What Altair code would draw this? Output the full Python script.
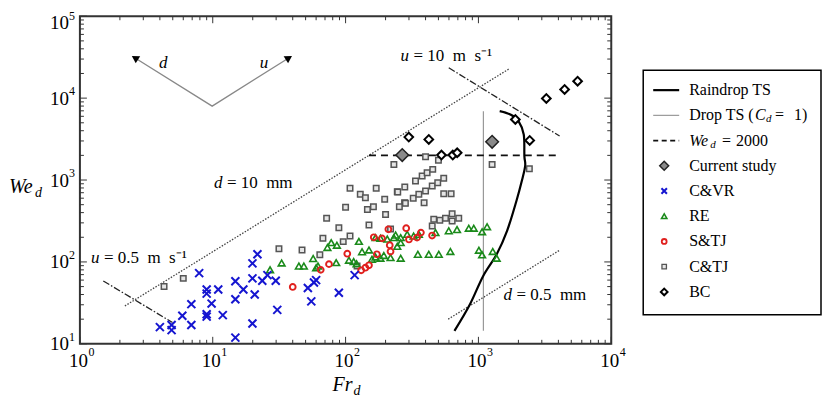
import altair as alt
import pandas as pd

FONT = "Liberation Serif"

# ---------------- data ----------------
# C&VR (blue crosses)
cvr_fr = [4.0, 4.9, 4.9, 5.9, 6.9, 6.9, 7.9, 9.0, 9.0, 9.0, 9.0, 9.8, 11, 11.9, 14.8, 14.8, 14.8,
          17, 19.9, 21.7, 19.9, 20.7, 19.9, 23.6, 25.8, 29.8, 30.6, 52, 55.2, 57.8, 60, 89, 117]
cvr_we = [16, 17, 14.7, 22, 30.5, 17, 73, 46, 41, 23, 21.5, 31, 46, 22.4, 58, 35, 11.9,
          46, 96, 124, 63, 40, 17.7, 59, 69, 59, 26, 48, 33, 56, 60, 42, 69]
# RE (green triangles)
re_fr = [27, 33, 44.5, 48.5, 57, 60, 62, 73, 78, 86, 85, 106, 115, 121, 126, 133, 150, 158, 168, 183,
         194, 168, 183, 206, 231, 238, 245, 260, 260, 291, 325, 356, 218, 260, 350, 423, 503, 615,
         475, 598, 690, 846, 922, 1066, 1162, 1008, 1066, 1282, 1373]
re_we = [80, 97, 89, 89, 110, 85, 89, 150, 172, 160, 98, 105, 101, 95, 178, 133, 140, 108, 115, 111,
         120, 198, 194, 190, 198, 213, 155, 172, 198, 217, 207, 217, 113, 111, 124, 124, 124, 134,
         228, 240, 248, 258, 258, 234, 269, 139, 122, 134, 111]
# S&TJ (red circles)
st_fr = [40, 65, 75, 103, 131, 150, 172, 163, 188, 210, 215, 218, 286, 300, 345, 369, 448, 141]
st_we = [49.5, 80, 94, 126, 79, 91, 124, 200, 194, 250, 160, 134, 258, 188, 198, 228, 210, 85]
# C&TJ (grey squares)
ct_fr = [4.3, 6.0, 31.5, 47, 64, 122, 67.5, 72, 89, 96, 108, 100, 108, 129, 141, 170, 197, 245, 146,
         162, 200, 150, 231, 400, 500, 1268, 2418, 247, 279, 336, 377, 411, 453, 278, 323, 356, 400,
         449, 494, 548, 390, 548, 623, 461, 512, 565, 634, 634, 711, 449, 218, 254, 282]
ct_we = [50, 63, 145, 140, 122, 89, 194, 341, 262, 177, 207, 465, 793, 670, 608, 793, 582, 720, 437,
         472, 380, 282, 1550, 1920, 1740, 1550, 1370, 714, 822, 973, 1119, 1228, 1349, 528, 598, 670,
         735, 845, 927, 1050, 528, 681, 681, 332, 323, 341, 388, 316, 341, 275, 252, 472, 520]
# BC (open diamonds)
bc_fr = [299, 423, 527, 641, 692, 1897, 2432, 3245, 4455, 5581]
bc_we = [3343, 3133, 2018, 2018, 2153, 5495, 3048, 9910, 12760, 16100]
# Current study (grey diamonds)
cs_fr = [267, 1268]
cs_we = [2018, 2930]

# Curves and reference lines
rain_fr = [660, 860, 1084, 1373, 1643, 1932, 2130, 2250, 2218, 2194, 2003, 1742, 1446]
rain_we = [14.4, 30, 67, 124, 239, 555, 1000, 1500, 1960, 3600, 5250, 6300, 6930]
dropts_fr = [1090, 1090]
dropts_we = [14.4, 6930]
we2000_fr = [150, 4016]
we2000_we = [2000, 2000]
d10_fr = [2.18, 1690]
d10_we = [29, 22600]
d05_fr = [592, 4085]
d05_we = [20, 139]
u05_fr = [1.5, 4.98]
u05_we = [58.6, 18.2]
u10_fr = [598, 4085]
u10_we = [23450, 3444]
arrow_fr = [2.64, 9.9, 36.8]
arrow_we = [30480, 7980, 30480]

# Annotations
ann_var = ["u", "u", "d", "d"]
ann_rest = ["=\u00a00.5\u00a0\u00a0m\u00a0\u00a0s\u207b\u00b9",
            "=\u00a010\u00a0\u00a0m\u00a0\u00a0s\u207b\u00b9",
            "=\u00a010\u00a0\u00a0mm",
            "=\u00a00.5\u00a0\u00a0mm"]
ann_fr = [1.21, 259, 10.2, 1542]
ann_we = [112, 32500, 918, 39.6]
arrow_lab = ["d", "u"]
arrow_lab_fr = [4.23, 24.3]
arrow_lab_we = [26900, 26900]

# Axis ticks / labels
x_dec = [1, 10, 100, 1000, 10000]
x_exp = ["0", "1", "2", "3", "4"]
y_dec = [10, 100, 1000, 10000, 100000]
y_exp = ["1", "2", "3", "4", "5"]
dec_base = ["10"] * 5
x_minor = [m * d for d in x_dec[:-1] for m in range(2, 10)]
y_minor = [m * d for d in y_dec[:-1] for m in range(2, 10)]
title_y = ["We", "d"]
title_x = ["Fr", "d"]

# Legend
leg_rows = ["Raindrop TS", "Drop TS", "We2000", "Current study", "C&VR", "RE", "S&TJ", "C&TJ", "BC"]
leg_plain = ["Raindrop TS", "Current study", "C&VR", "RE", "S&TJ", "C&TJ", "BC"]
leg_drop_parts = ["Drop TS (", "C", "d", "=", "1)"]
leg_we_parts = ["We", "d", "=", "2000"]

# ---------------- chart ----------------
W, H = 532, 328
xs = alt.Scale(type="log", domain=[1, 10000], nice=False)
ys = alt.Scale(type="log", domain=[10, 100000], nice=False)
enc_x = alt.X("fr:Q", scale=xs, axis=None)
enc_y = alt.Y("we:Q", scale=ys, axis=None)
X_PATH = "M-1,-1L1,1M-1,1L1,-1"


def frame(fr, we, **extra):
    d = pd.DataFrame({"fr": fr, "we": we})
    d["i"] = range(len(d))
    for k, v in extra.items():
        d[k] = v
    return d


def line(fr, we, **kw):
    return alt.Chart(frame(fr, we)).mark_line(**kw).encode(x=enc_x, y=enc_y, order="i:Q")


def points(fr, we, **kw):
    return alt.Chart(frame(fr, we)).mark_point(opacity=1, **kw).encode(x=enc_x, y=enc_y)


layers = []
layers.append(line(d10_fr, d10_we, color="#444", strokeWidth=1.3, strokeDash=[1.5, 1.5]))
layers.append(line(d05_fr, d05_we, color="#444", strokeWidth=1.3, strokeDash=[1.5, 1.5]))
layers.append(line(u05_fr, u05_we, color="#222", strokeWidth=1.3, strokeDash=[7, 2, 1.5, 2]))
layers.append(line(u10_fr, u10_we, color="#222", strokeWidth=1.3, strokeDash=[7, 2, 1.5, 2]))
layers.append(line(arrow_fr, arrow_we, color="#888", strokeWidth=1.3))
layers.append(points(arrow_fr[:1], arrow_we[:1], shape="triangle", angle=302, size=70,
                     filled=True, color="black"))
layers.append(points(arrow_fr[2:], arrow_we[2:], shape="triangle", angle=58, size=70,
                     filled=True, color="black"))
layers.append(line(dropts_fr, dropts_we, color="#999", strokeWidth=1.2))
layers.append(line(we2000_fr, we2000_we, color="#111", strokeWidth=1.8, strokeDash=[7, 5]))
layers.append(line(rain_fr, rain_we, color="black", strokeWidth=2.2, interpolate="cardinal"))

layers.append(points(ct_fr, ct_we, shape="square", size=30, filled=True, fill="#e6e6e6",
                     stroke="#555", strokeWidth=1.5))
layers.append(points(re_fr, re_we, shape="triangle-up", size=45, filled=False, color="#1a8a1a",
                     strokeWidth=1.6))
layers.append(points(st_fr, st_we, shape="circle", size=34, filled=False, color="#e0201e",
                     strokeWidth=1.9))
layers.append(points(cvr_fr, cvr_we, shape=X_PATH, size=64, filled=False, color="#1515d0",
                     strokeWidth=2))
layers.append(points(bc_fr, bc_we, shape="diamond", size=75, filled=True, fill="white",
                     stroke="black", strokeWidth=2))
layers.append(points(cs_fr, cs_we, shape="diamond", size=160, filled=True, fill="#8a8a8a",
                     stroke="#222", strokeWidth=1.5))

# annotations
ann_df = pd.DataFrame({"fr": ann_fr, "we": ann_we, "v": ann_var, "r": ann_rest})
layers.append(alt.Chart(ann_df).mark_text(font=FONT, fontSize=17, fontStyle="italic", align="left",
                                          baseline="middle").encode(x=enc_x, y=enc_y, text="v:N"))
layers.append(alt.Chart(ann_df).mark_text(font=FONT, fontSize=17, align="left", baseline="middle",
                                          dx=13).encode(x=enc_x, y=enc_y, text="r:N"))
alab_df = pd.DataFrame({"fr": arrow_lab_fr, "we": arrow_lab_we, "t": arrow_lab})
layers.append(alt.Chart(alab_df).mark_text(font=FONT, fontSize=17, fontStyle="italic",
                                           baseline="middle").encode(x=enc_x, y=enc_y, text="t:N"))

# inward ticks on all four sides
TICK = dict(color="#333", strokeWidth=1)
for vals, ln in ((x_dec, 7), (x_minor, 4)):
    b = alt.Chart(pd.DataFrame({"fr": vals}))
    layers.append(b.mark_rule(**TICK).encode(x=enc_x, y=alt.value(H), y2=alt.value(H - ln)))
    layers.append(b.mark_rule(**TICK).encode(x=enc_x, y=alt.value(0), y2=alt.value(ln)))
for vals, ln in ((y_dec, 7), (y_minor, 4)):
    b = alt.Chart(pd.DataFrame({"we": vals}))
    layers.append(b.mark_rule(**TICK).encode(y=enc_y, x=alt.value(0), x2=alt.value(ln)))
    layers.append(b.mark_rule(**TICK).encode(y=enc_y, x=alt.value(W), x2=alt.value(W - ln)))

# tick labels 10^n
xl = alt.Chart(pd.DataFrame({"fr": x_dec, "b": dec_base, "e": x_exp}))
layers.append(xl.mark_text(font=FONT, fontSize=19, baseline="alphabetic", dx=-1.5)
              .encode(x=enc_x, y=alt.value(H + 23), text="b:N"))
layers.append(xl.mark_text(font=FONT, fontSize=12, baseline="alphabetic", align="left", dx=8.5)
              .encode(x=enc_x, y=alt.value(H + 12), text="e:N"))
# the top y label sits a little lower than its tick, as in the reference
for sl, shift in ((slice(0, 4), 0), (slice(4, 5), 6)):
    yl = alt.Chart(pd.DataFrame({"we": y_dec[sl], "b": dec_base[sl], "e": y_exp[sl]}))
    layers.append(yl.mark_text(font=FONT, fontSize=19, baseline="alphabetic", align="right",
                               dy=6.5 + shift).encode(y=enc_y, x=alt.value(-11), text="b:N"))
    layers.append(yl.mark_text(font=FONT, fontSize=12, baseline="alphabetic", align="left",
                               dy=-2.7 + shift).encode(y=enc_y, x=alt.value(-11), text="e:N"))

# axis titles
ty = alt.Chart(pd.DataFrame({"t": title_y[:1], "s": title_y[1:]}))
layers.append(ty.mark_text(font=FONT, fontSize=20, fontStyle="italic", align="left",
                           baseline="alphabetic").encode(x=alt.value(-71), y=alt.value(177), text="t:N"))
layers.append(ty.mark_text(font=FONT, fontSize=14, fontStyle="italic", align="left",
                           baseline="alphabetic").encode(x=alt.value(-45), y=alt.value(181), text="s:N"))
tx = alt.Chart(pd.DataFrame({"t": title_x[:1], "s": title_x[1:]}))
layers.append(tx.mark_text(font=FONT, fontSize=20, fontStyle="italic", align="left",
                           baseline="alphabetic").encode(x=alt.value(253), y=alt.value(375), text="t:N"))
layers.append(tx.mark_text(font=FONT, fontSize=14, fontStyle="italic", align="left",
                           baseline="alphabetic").encode(x=alt.value(274), y=alt.value(379), text="s:N"))

main = alt.layer(*layers).properties(
    width=W, height=H, view=alt.ViewBackground(stroke="#333", strokeWidth=2))

# ---------------- legend panel ----------------
LW = 178
ly = alt.Scale(type="point", domain=leg_rows, range=[74, 276], padding=0)
enc_ly = alt.Y("row:N", scale=ly, axis=None)


def lrow(rows, **extra):
    d = pd.DataFrame({"row": rows})
    for k, v in extra.items():
        d[k] = v
    return alt.Chart(d)


leg = []
leg.append(lrow(leg_rows[:1]).mark_rect(fill="white", stroke="black", strokeWidth=1.5).encode(
    x=alt.value(0), x2=alt.value(LW), y=alt.value(54), y2=alt.value(299)))
leg.append(lrow(["Raindrop TS"]).mark_rule(color="black", strokeWidth=2.2).encode(
    x=alt.value(10), x2=alt.value(36), y=enc_ly))
leg.append(lrow(["Drop TS"]).mark_rule(color="#999", strokeWidth=1.2).encode(
    x=alt.value(10), x2=alt.value(36), y=enc_ly))
leg.append(lrow(["We2000"]).mark_rule(color="#111", strokeWidth=1.8, strokeDash=[5, 3.5]).encode(
    x=alt.value(10), x2=alt.value(36), y=enc_ly))


def lsym(row, **kw):
    return lrow([row]).mark_point(opacity=1, **kw).encode(x=alt.value(21), y=enc_ly)


leg.append(lsym("Current study", shape="diamond", size=80, filled=True, fill="#8a8a8a",
                stroke="#222", strokeWidth=1.5))
leg.append(lsym("C&VR", shape=X_PATH, size=30, filled=False, color="#1515d0", strokeWidth=2))
leg.append(lsym("RE", shape="triangle-up", size=30, filled=False, color="#1a8a1a", strokeWidth=1.5))
leg.append(lsym("S&TJ", shape="circle", size=24, filled=False, color="#e0201e", strokeWidth=1.8))
leg.append(lsym("C&TJ", shape="square", size=20, filled=True, fill="#e6e6e6", stroke="#555",
                strokeWidth=1.3))
leg.append(lsym("BC", shape="diamond", size=45, filled=True, fill="white", stroke="black",
                strokeWidth=2))

TXT = dict(font=FONT, fontSize=16, align="left", baseline="middle")
leg.append(lrow(leg_plain, t=leg_plain).mark_text(**TXT).encode(
    x=alt.value(46), y=enc_ly, text="t:N"))
# Drop TS (C_d = 1)
dp = leg_drop_parts
leg.append(lrow(["Drop TS"], t=[dp[0]]).mark_text(**TXT).encode(x=alt.value(46), y=enc_ly, text="t:N"))
leg.append(lrow(["Drop TS"], t=[dp[1]]).mark_text(**TXT, fontStyle="italic").encode(
    x=alt.value(112), y=enc_ly, text="t:N"))
leg.append(lrow(["Drop TS"], t=[dp[2]]).mark_text(font=FONT, fontSize=11, align="left",
                                                  baseline="middle", fontStyle="italic", dy=4).encode(
    x=alt.value(123), y=enc_ly, text="t:N"))
leg.append(lrow(["Drop TS"], t=[dp[3]]).mark_text(**TXT).encode(x=alt.value(132), y=enc_ly, text="t:N"))
leg.append(lrow(["Drop TS"], t=[dp[4]]).mark_text(**TXT).encode(x=alt.value(151), y=enc_ly, text="t:N"))
# We_d = 2000
wp = leg_we_parts
leg.append(lrow(["We2000"], t=[wp[0]]).mark_text(**TXT, fontStyle="italic").encode(
    x=alt.value(46), y=enc_ly, text="t:N"))
leg.append(lrow(["We2000"], t=[wp[1]]).mark_text(font=FONT, fontSize=11, align="left",
                                                 baseline="middle", fontStyle="italic", dy=4).encode(
    x=alt.value(67), y=enc_ly, text="t:N"))
leg.append(lrow(["We2000"], t=[wp[2]]).mark_text(**TXT).encode(x=alt.value(79), y=enc_ly, text="t:N"))
leg.append(lrow(["We2000"], t=[wp[3]]).mark_text(**TXT).encode(x=alt.value(93), y=enc_ly, text="t:N"))

legend = alt.layer(*leg).properties(
    width=LW, height=H, view=alt.ViewBackground(stroke="transparent"))

chart = alt.hconcat(main, legend, spacing=14).properties(padding=0).configure(font=FONT)
chart.save("out.html", embed_options={"renderer": "svg", "actions": False})
